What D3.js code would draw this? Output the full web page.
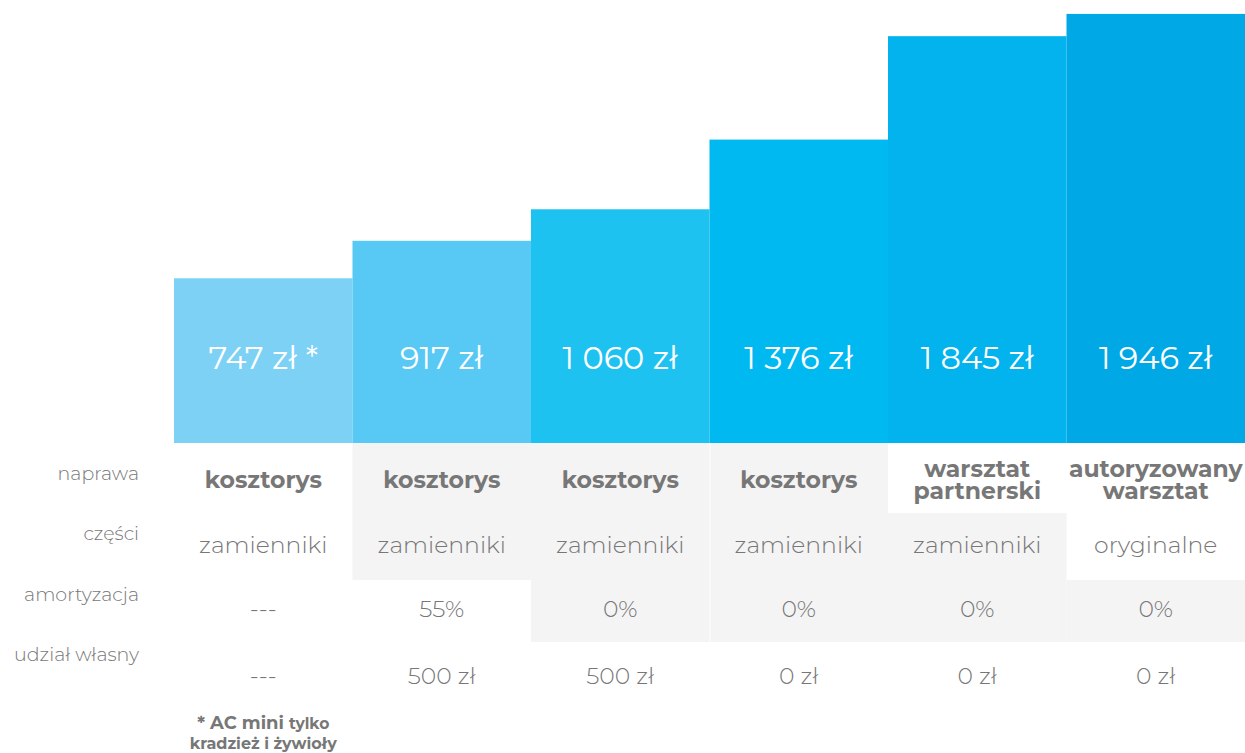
<!DOCTYPE html>
<meta charset="utf-8">
<style>
body { margin: 0; background: #fff; }
svg { font-family: Montserrat, Lato, "Open Sans", sans-serif; }
.rowLabel { font-size: 19px; font-weight: 300; fill: #777; }
.cell { font-size: 23.5px; font-weight: 300; fill: #777; }
.cellBold { font-size: 23.5px; font-weight: 700; fill: #777; }
.barLabel { font-size: 32px; font-weight: 400; fill: #fff; }
.note { font-weight: 700; fill: #777; }
</style>
<svg width="1245" height="753"></svg>
<script src="https://d3js.org/d3.v7.min.js"></script>
<script>
var prices = [747, 917, 1060, 1376, 1845, 1946];
var priceLabels = ["747 zł *", "917 zł", "1 060 zł", "1 376 zł", "1 845 zł", "1 946 zł"];
var barColors = ["#7cd1f5", "#57c9f4", "#1ec2f1", "#00b9f0", "#02b3ee", "#00a9e5"];
var rowNames = ["naprawa", "części", "amortyzacja", "udział własny"];
var naprawa = [["kosztorys"], ["kosztorys"], ["kosztorys"], ["kosztorys"], ["warsztat", "partnerski"], ["autoryzowany", "warsztat"]];
var czesci = ["zamienniki", "zamienniki", "zamienniki", "zamienniki", "zamienniki", "oryginalne"];
var amortyzacja = ["---", "55%", "0%", "0%", "0%", "0%"];
var udzial = ["---", "500 zł", "500 zł", "0 zł", "0 zł", "0 zł"];
// which table cells get the grey background
var greyCells = [[0,1,1,1,0,0],[0,1,1,1,1,0],[0,0,1,1,1,1],[0,0,0,0,0,0]];

var svg = d3.select("svg");
var cols = d3.range(prices.length);

var x = d3.scaleBand().domain(cols).range([174, 1245]).padding(0);
var y = d3.scaleLinear().domain([0, 2000]).range([443, 2]);

// table rows: top edges and text centres
var rowTop = [443, 513, 580, 642];
var rowBottom = [513, 580, 642, 710];
var rowText = [480, 545, 609, 676];
var labelY = [473, 533, 594, 654];

// grey backgrounds
var cellData = [];
greyCells.forEach(function(r, ri) {
  r.forEach(function(v, ci) { if (v) cellData.push({r: ri, c: ci}); });
});
svg.append("g").selectAll("rect")
  .data(cellData)
  .enter().append("rect")
    .attr("x", function(d) { return x(d.c) + (d.c == 3 ? 1 : 0); })
    .attr("y", function(d) { return rowTop[d.r]; })
    .attr("width", function(d) { return x.bandwidth() - (d.c == 3 ? 1 : 0); })
    .attr("height", function(d) { return rowBottom[d.r] - rowTop[d.r]; })
    .attr("fill", "#f4f4f4");

// bars
svg.append("g").selectAll("rect")
  .data(prices)
  .enter().append("rect")
    .attr("x", function(d, i) { return x(i); })
    .attr("y", function(d) { return y(d); })
    .attr("width", x.bandwidth())
    .attr("height", function(d) { return y(0) - y(d); })
    .attr("fill", function(d, i) { return barColors[i]; });

svg.append("g").selectAll("text")
  .data(priceLabels)
  .enter().append("text")
    .attr("class", "barLabel")
    .attr("x", function(d, i) { return x(i) + x.bandwidth() / 2; })
    .attr("y", 358)
    .attr("dy", "0.35em")
    .attr("text-anchor", "middle")
    .text(function(d) { return d; });

// row labels
svg.append("g").selectAll("text")
  .data(rowNames)
  .enter().append("text")
    .attr("class", "rowLabel")
    .attr("x", 139)
    .attr("y", function(d, i) { return labelY[i]; })
    .attr("dy", "0.35em")
    .attr("text-anchor", "end")
    .text(function(d) { return d; });

// naprawa row (bold, two lines where needed)
var napLines = [];
naprawa.forEach(function(d, i) {
  d.forEach(function(line, k) {
    napLines.push({c: i, text: line, y: rowText[0] - (d.length - 1) * 11 + k * 22});
  });
});
svg.append("g").selectAll("text")
  .data(napLines)
  .enter().append("text")
    .attr("class", "cellBold")
    .attr("x", function(d) { return x(d.c) + x.bandwidth() / 2; })
    .attr("y", function(d) { return d.y; })
    .attr("dy", "0.35em")
    .attr("text-anchor", "middle")
    .text(function(d) { return d.text; });

[czesci, amortyzacja, udzial].forEach(function(row, ri) {
  svg.append("g").selectAll("text")
    .data(row)
    .enter().append("text")
      .attr("class", "cell")
      .attr("x", function(d, i) { return x(i) + x.bandwidth() / 2; })
      .attr("y", rowText[ri + 1])
      .attr("dy", "0.35em")
      .attr("text-anchor", "middle")
      .text(function(d) { return d; });
});

// footnote
var nx = x(0) + x.bandwidth() / 2;
var note = svg.append("text")
  .attr("class", "note")
  .attr("text-anchor", "middle")
  .attr("x", nx).attr("y", 729);
note.append("tspan").attr("font-size", "18px").text("* AC mini ");
note.append("tspan").attr("font-size", "15.5px").text("tylko");
svg.append("text")
  .attr("class", "note")
  .attr("text-anchor", "middle")
  .attr("x", nx).attr("y", 749)
  .attr("font-size", "16px")
  .text("kradzież i żywioły");
</script>
